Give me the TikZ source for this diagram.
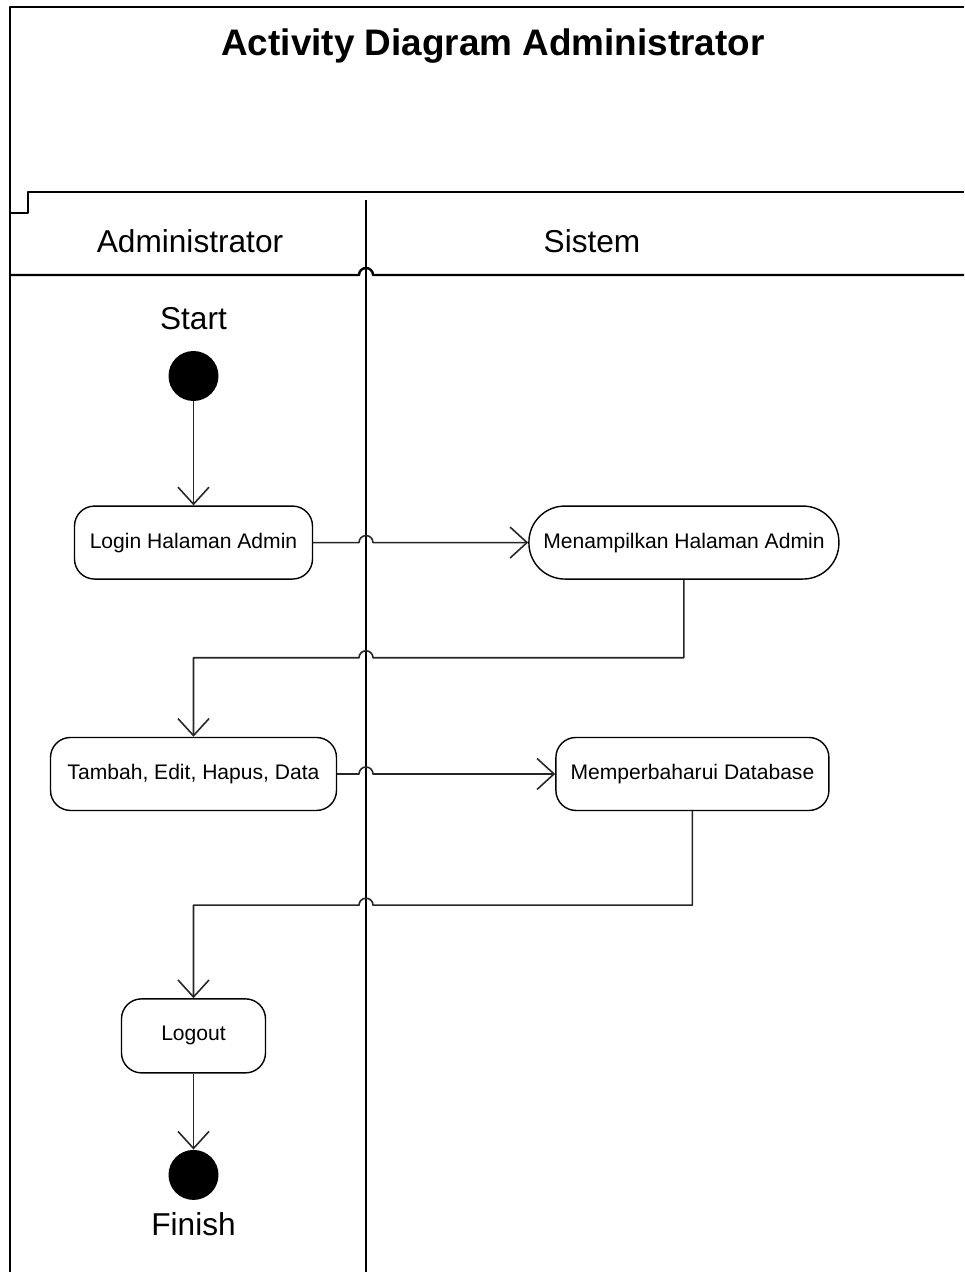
\documentclass[tikz,border=0pt]{standalone}
\usepackage{fontspec}
\setmainfont{Liberation Sans}
\usetikzlibrary{positioning,calc,arrows.meta}

\begin{document}
\begin{tikzpicture}[>={Straight Barb[length=0.34cm,width=0.62cm]},line join=round,
      act/.style={draw,rounded corners=0.4cm,minimum height=1.46cm,line width=0.8pt,
        font=\fontsize{12}{14}\selectfont},
      dot/.style={circle,fill=black,minimum size=1cm,inner sep=0pt},
      flow/.style={->,line width=0.9pt,black!85},
      frame/.style={line width=1.4pt},
      lbl/.style={font=\fontsize{18}{21}\selectfont}]
      \useasboundingbox (0,0) rectangle (19.28,-25.44);

      % frame, partition header and lanes
      \draw[frame] (0.2,-25.44) -- (0.2,-0.14) -- (19.28,-0.14);
      \draw[frame] (19.28,-3.84) -- (0.56,-3.84) -- (0.56,-4.26) -- (0.2,-4.26);
      \coordinate (lane) at (7.32,0);
      \draw[frame] (0.2,-5.5) -- ($(lane |- 0,-5.5)+(-0.14,0)$)
        arc[start angle=180,end angle=0,radius=0.14cm] -- (19.28,-5.5);
      \draw[line width=1.1pt] (7.32,-4.0) -- (7.32,-25.44);

      \node[font=\bfseries\fontsize{21}{25}\selectfont] (title) at (9.86,-0.92) {Activity Diagram Administrator};
      \node[lbl] (admin) at (3.8,-4.82) {Administrator};
      \node[lbl] (sistem) at (11.84,-4.82) {Sistem};

      % activities
      \node[dot] (start) at (3.87,-7.52) {};
      \node[lbl] (startlbl) [above=0.3cm of start] {Start};
      \node[act,minimum width=4.76cm] (login) [below=2.08cm of start] {Login Halaman Admin};
      \node[act,minimum width=6.2cm,rounded corners=0.72cm] (menu) [right=4.3cm of login] {Menampilkan Halaman Admin};
      \node[act,minimum width=5.72cm] (tambah) [below=3.14cm of login] {Tambah, Edit, Hapus, Data};
      \node[act,minimum width=5.46cm] (update) [right=4.36cm of tambah] {Memperbaharui Database};
      \node[act,minimum width=2.88cm,minimum height=1.48cm] (logout) [below=3.74cm of tambah] {Logout};
      \node[dot] (finish) [below=1.52cm of logout] {};
      \node[lbl] (finishlbl) [below=0.12cm of finish] {Finish};

      \coordinate [below=1.56cm of menu.south] (turn1);
      \coordinate [below=1.88cm of update.south] (turn2);

      % control flow, hopping over the lane line
      \draw[flow] (start) -- (login);
      \draw[flow] (login.east) -- ($(login.east -| lane)+(-0.14,0)$)
        arc[start angle=180,end angle=0,radius=0.14cm] -- (menu.west);
      \draw[flow] (menu.south) -- (turn1) -- ($(turn1 -| lane)+(0.14,0)$)
        arc[start angle=0,end angle=180,radius=0.14cm] -- (turn1 -| tambah.north) -- (tambah.north);
      \draw[flow] (tambah.east) -- ($(tambah.east -| lane)+(-0.14,0)$)
        arc[start angle=180,end angle=0,radius=0.14cm] -- (update.west);
      \draw[flow] (update.south) -- (turn2) -- ($(turn2 -| lane)+(0.14,0)$)
        arc[start angle=0,end angle=180,radius=0.14cm] -- (turn2 -| logout.north) -- (logout.north);
      \draw[flow] (logout) -- (finish);
    \end{tikzpicture}
\end{document}
